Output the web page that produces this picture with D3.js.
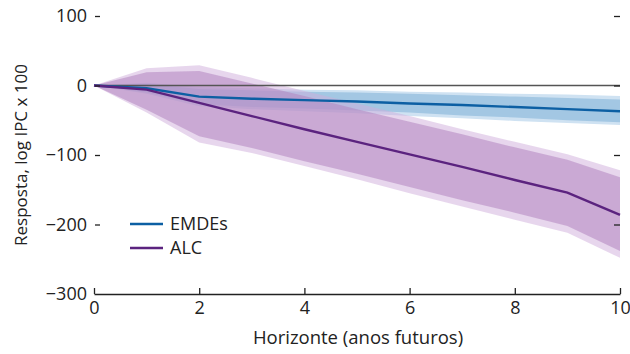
<!DOCTYPE html>
<html>
<head>
<meta charset="utf-8">
<script src="https://cdn.jsdelivr.net/npm/d3@7"></script>
<style>
  body { margin: 0; background: #fff; }
  svg text { font-family: "Open Sans", sans-serif; fill: #222; }
</style>
</head>
<body>
<svg width="630" height="354"></svg>
<script>
// horizon (years ahead)
var horizon = [0, 1, 2, 3, 4, 5, 6, 7, 8, 9, 10];

// EMDEs response and bands [upper, lower]
var emdeMid  = [0, -4, -16, -19, -21, -23, -26, -28, -31, -34, -37];
var emdeIn   = [[0, 0], [2, -10], [-5, -27], [-7, -31], [-9, -33], [-10, -36], [-12, -39], [-14, -43], [-16, -46], [-18, -50], [-20, -53]];
var emdeOut  = [[0, 0], [4, -12], [-2, -30], [-4, -34], [-6, -37], [-7, -40], [-9, -44], [-10, -47], [-12, -51], [-13, -54], [-15, -57]];

// ALC response and bands [upper, lower]
var alcMid   = [0, -6, -25, -44, -63, -81, -99, -117, -136, -154, -186];
var alcIn    = [[0, 0], [19, -35], [21, -73], [3, -90], [-15, -109], [-34, -127], [-52, -146], [-70, -165], [-89, -183], [-107, -202], [-132, -238]];
var alcOut   = [[0, 0], [25, -39], [29, -82], [11, -97], [-8, -116], [-26, -135], [-44, -155], [-63, -174], [-81, -193], [-99, -212], [-122, -248]];

var xTicks = [0, 2, 4, 6, 8, 10];
var yTicks = [100, 0, -100, -200, -300];
var legendNames = ["EMDEs", "ALC"];
var legendColors = ["#0c5fa3", "#5b237f"];

var svg = d3.select("svg"),
    plotL = 94, plotR = 620, plotT = 16, plotB = 294;

var x = d3.scaleLinear().domain([0, 10]).range([plotL, plotR]);
var y = d3.scaleLinear().domain([-300, 100]).range([plotB, plotT]);

function band(b) {
  return d3.area()
    .x(function(d, i) { return x(horizon[i]); })
    .y0(function(d) { return y(d[1]); })
    .y1(function(d) { return y(d[0]); })(b);
}
var line = d3.line()
    .x(function(d, i) { return x(horizon[i]); })
    .y(function(d) { return y(d); });

// bands
svg.append("path").attr("d", band(emdeOut)).attr("fill", "#cfe2f2");
svg.append("path").attr("d", band(emdeIn)).attr("fill", "#a3c7e3");
svg.append("path").attr("d", band(alcOut)).attr("fill", "#cfaedb").attr("fill-opacity", 0.5);
svg.append("path").attr("d", band(alcIn)).attr("fill", "#b285c0").attr("fill-opacity", 0.55);

// zero line
svg.append("line")
    .attr("x1", x(0)).attr("x2", x(10))
    .attr("y1", y(0)).attr("y2", y(0))
    .attr("stroke", "#555").attr("stroke-width", 1.4);

// lines
svg.append("path").attr("d", line(emdeMid))
    .attr("fill", "none").attr("stroke", legendColors[0]).attr("stroke-width", 2.4);
svg.append("path").attr("d", line(alcMid))
    .attr("fill", "none").attr("stroke", legendColors[1]).attr("stroke-width", 2.4);

// left axis: labels + short dashes, no domain line
var yl = svg.append("g").attr("transform", "translate(" + (plotL - 4) + ",0)")
    .call(d3.axisLeft(y).tickValues(yTicks).tickSize(0).tickPadding(0)
      .tickFormat(function(d) { return d < 0 ? "\u2212" + (-d) : d; }));
yl.select(".domain").remove();
yl.selectAll("text").attr("x", -3).attr("font-size", 18).attr("fill", "#222");
yl.selectAll(".tick").filter(function(d) { return d !== -300; })
  .append("line").attr("x1", 5).attr("x2", 10).attr("stroke", "#222").attr("stroke-width", 1.3);

// right axis: only tick dashes
var yr = svg.append("g").attr("transform", "translate(" + plotR + ",0)")
    .call(d3.axisLeft(y).tickValues([100, 0, -100, -200]).tickSize(6).tickFormat(""));
yr.select(".domain").remove();
yr.selectAll("line").attr("stroke", "#222").attr("stroke-width", 1.3);

// bottom axis, ticks pointing up
var xa = svg.append("g").attr("transform", "translate(0," + plotB + ")")
    .call(d3.axisBottom(x).tickValues(xTicks).tickSizeInner(-6).tickSizeOuter(0).tickPadding(6));
xa.select(".domain").attr("stroke", "#222").attr("stroke-width", 1.3);
xa.selectAll("line").attr("stroke", "#222").attr("stroke-width", 1.3);
xa.selectAll("text").attr("y", 7).attr("dy", "0.71em").attr("font-size", 18).attr("fill", "#222");

// axis titles
svg.append("text")
    .attr("x", (plotL + plotR) / 2 + 1).attr("y", 344)
    .attr("text-anchor", "middle").attr("font-size", 18.5)
    .text("Horizonte (anos futuros)");
svg.append("text")
    .attr("transform", "translate(27," + ((plotT + plotB) / 2) + ") rotate(-90)")
    .attr("text-anchor", "middle").attr("font-size", 17)
    .text("Resposta, log IPC x 100");

// legend
var lg = svg.append("g").selectAll("g").data(legendNames).enter().append("g")
    .attr("transform", function(d, i) { return "translate(130," + (224 + i * 24) + ")"; });
lg.append("line").attr("x1", 0).attr("x2", 33)
    .attr("stroke", function(d, i) { return legendColors[i]; }).attr("stroke-width", 2.4);
lg.append("text").attr("x", 40).attr("dy", "0.36em").attr("font-size", 18)
    .text(function(d) { return d; });
</script>
</body>
</html>
